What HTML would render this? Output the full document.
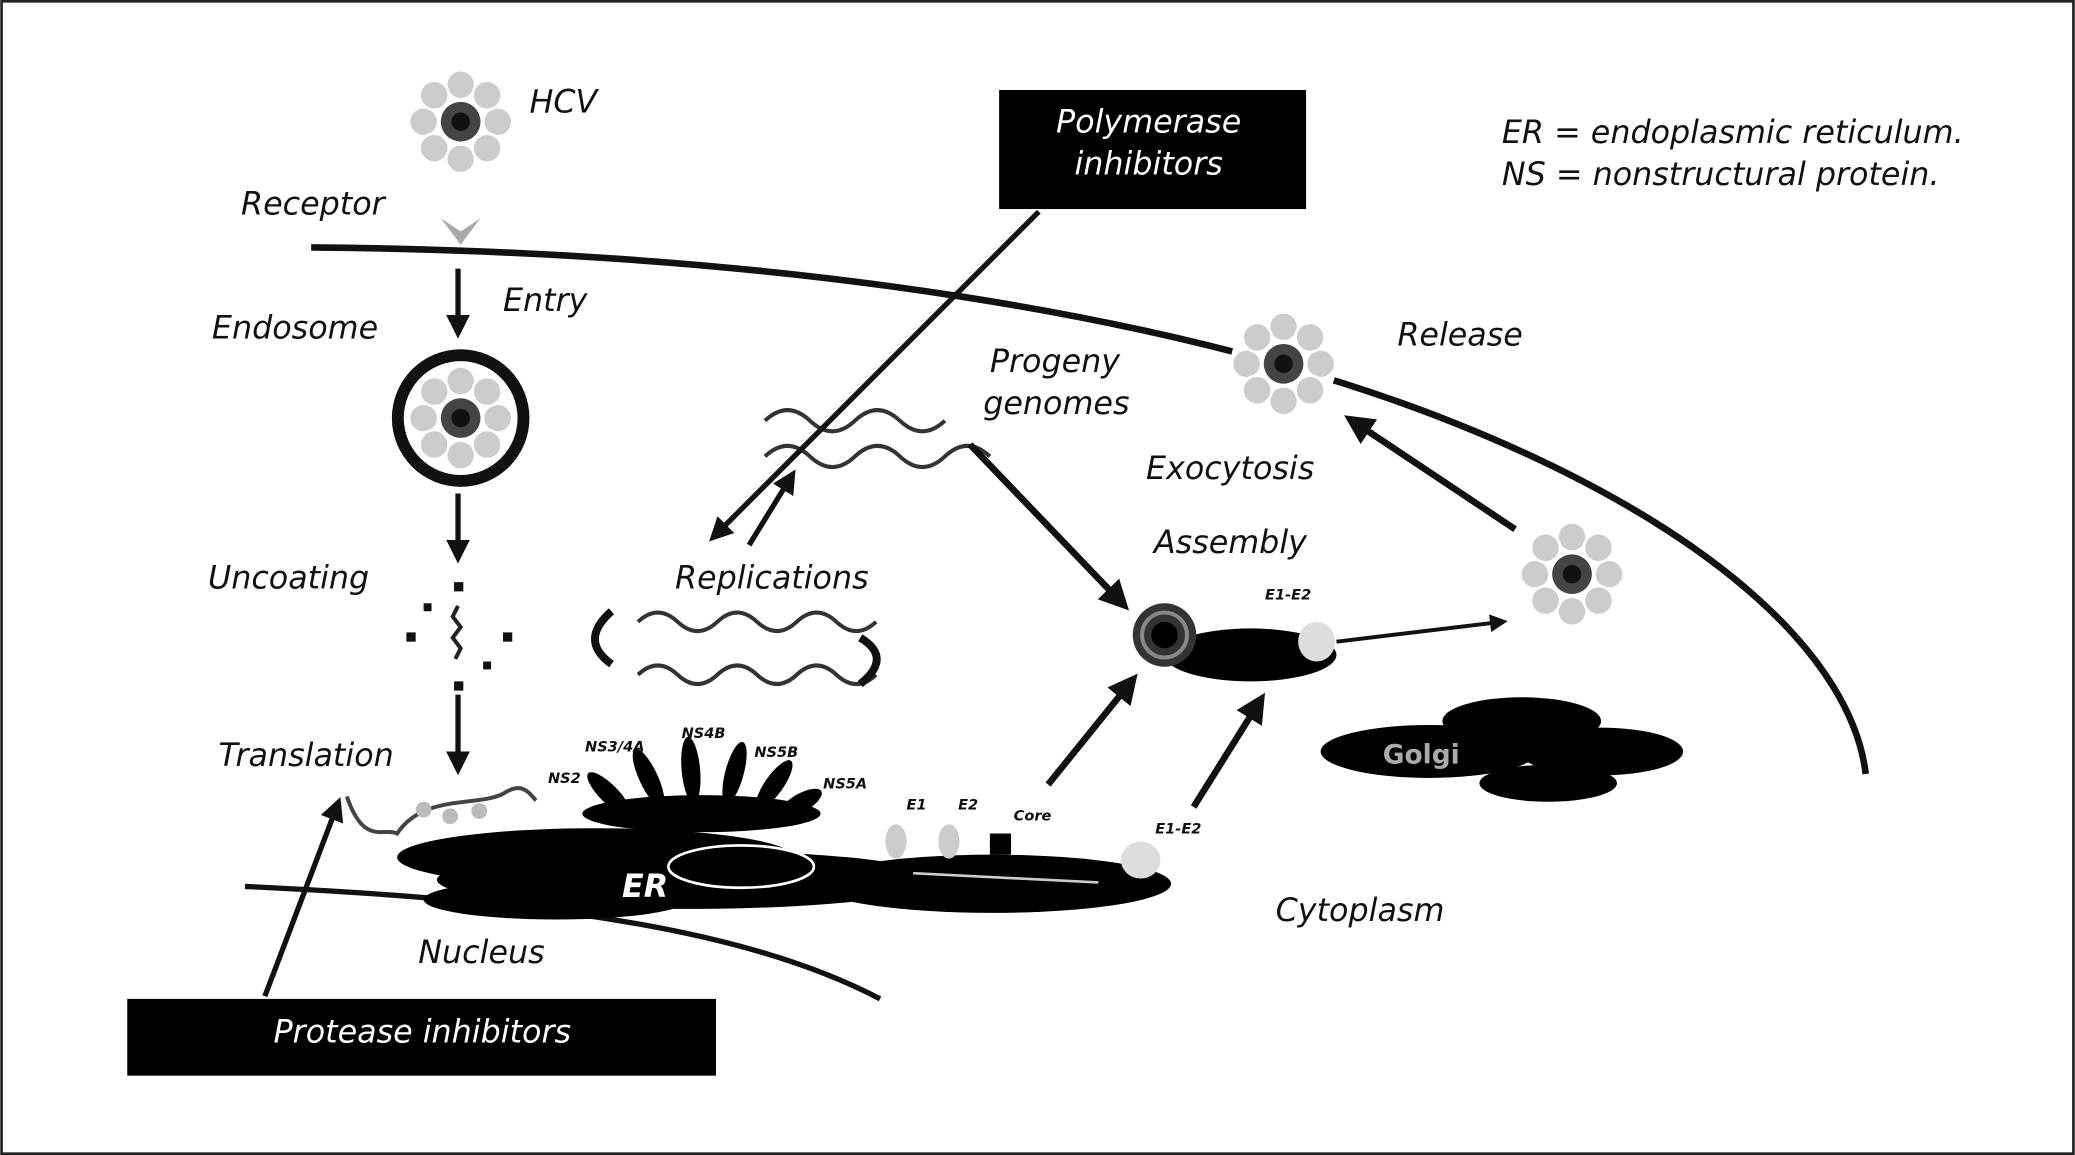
<!DOCTYPE html>
<html><head><meta charset="utf-8"><style>
html,body{margin:0;padding:0;background:#fff;}
svg{display:block;}
text{font-family:"DejaVu Sans","Liberation Sans",sans-serif;font-style:italic;fill:#111;}
</style></head><body>
<svg width="2075" height="1155" viewBox="0 0 1568 873" xmlns="http://www.w3.org/2000/svg">
<defs>
<marker id="ah" markerWidth="4.5" markerHeight="4.5" refX="3" refY="2.25" orient="auto" markerUnits="strokeWidth">
<path d="M0,0 L4.5,2.25 L0,4.5 z" fill="#111"/></marker>
<g id="virus">
<circle r="40" fill="#fff"/>
<g fill="#ccc" stroke="#fff" stroke-width="2">
<circle cx="0" cy="-28" r="11"/><circle cx="0" cy="28" r="11"/><circle cx="-28" cy="0" r="11"/><circle cx="28" cy="0" r="11"/>
<circle cx="20" cy="20" r="11"/><circle cx="-20" cy="20" r="11"/><circle cx="20" cy="-20" r="11"/><circle cx="-20" cy="-20" r="11"/>
</g>
<circle r="15" fill="#444"/><circle r="7" fill="#111"/>
</g>
</defs>
<rect x="1" y="1" width="1566" height="871" fill="#fff" stroke="#222" stroke-width="2"/>

<path d="M235,187 C600,190 900,240 1100,320 C1300,400 1400,500 1410,585" fill="none" stroke="#111" stroke-width="5"/>
<path d="M185,670 C400,680 560,700 665,755" fill="none" stroke="#111" stroke-width="4"/>

<text x="400" y="85" font-size="24">HCV</text>
<text x="182" y="162" font-size="24">Receptor</text>
<text x="380" y="235" font-size="24">Entry</text>
<text x="160" y="256" font-size="24">Endosome</text>
<text x="157" y="445" font-size="24">Uncoating</text>
<text x="510" y="445" font-size="24">Replications</text>
<text x="165" y="579" font-size="24">Translation</text>
<text x="316" y="728" font-size="24">Nucleus</text>
<text x="748" y="281" font-size="24">Progeny</text>
<text x="743" y="313" font-size="24">genomes</text>
<text x="866" y="362" font-size="24">Exocytosis</text>
<text x="872" y="418" font-size="24">Assembly</text>
<text x="1056" y="261" font-size="24">Release</text>
<text x="964" y="696" font-size="24">Cytoplasm</text>
<text x="1135" y="108" font-size="24">ER = endoplasmic reticulum.</text>
<text x="1135" y="140" font-size="24">NS = nonstructural protein.</text>

<rect x="755" y="68" width="232" height="90" fill="#000"/>
<text x="868" y="100" font-size="24" text-anchor="middle" style="fill:#fff">Polymerase</text>
<text x="868" y="132" font-size="24" text-anchor="middle" style="fill:#fff">inhibitors</text>
<rect x="96" y="755" width="445" height="58" fill="#000"/>
<text x="319" y="788" font-size="24" text-anchor="middle" style="fill:#fff">Protease inhibitors</text>

<use href="#virus" x="348" y="92"/>
<path d="M333,165 L348,185 L363,165 L348,175 z" fill="#aaa"/>

<line x1="346" y1="203" x2="346" y2="250" stroke="#111" stroke-width="4" marker-end="url(#ah)"/>
<circle cx="348" cy="316" r="52" fill="#111"/>
<circle cx="348" cy="316" r="43" fill="#fff"/>
<use href="#virus" x="348" y="316"/>
<line x1="346" y1="373" x2="346" y2="420" stroke="#111" stroke-width="4" marker-end="url(#ah)"/>
<g fill="#111">
<rect x="343" y="440" width="7" height="7"/><rect x="343" y="515" width="7" height="7"/>
<rect x="307" y="478" width="7" height="7"/><rect x="380" y="478" width="7" height="7"/>
<rect x="320" y="456" width="6" height="6"/><rect x="365" y="500" width="6" height="6"/>
</g>
<path d="M346,458 l-4,8 l6,8 l-6,8 l6,8 l-4,8" fill="none" stroke="#222" stroke-width="3"/>
<line x1="346" y1="525" x2="346" y2="580" stroke="#111" stroke-width="4" marker-end="url(#ah)"/>

<ellipse cx="450" cy="648" rx="150" ry="22" fill="#000"/>
<ellipse cx="520" cy="665" rx="190" ry="22" fill="#000"/>
<ellipse cx="560" cy="655" rx="55" ry="16" fill="#000" stroke="#fff" stroke-width="2"/>
<ellipse cx="750" cy="668" rx="135" ry="22" fill="#000"/>
<ellipse cx="420" cy="680" rx="100" ry="15" fill="#000"/>
<text x="470" y="678" font-size="24" style="fill:#fff;font-weight:bold">ER</text>
<line x1="690" y1="660" x2="830" y2="667" stroke="#ccc" stroke-width="2"/>
<ellipse cx="530" cy="615" rx="90" ry="14" fill="#000"/>
<g fill="#000">
<ellipse cx="460" cy="600" rx="7" ry="22" transform="rotate(-45 460 600)"/>
<ellipse cx="490" cy="588" rx="7" ry="24" transform="rotate(-25 490 588)"/>
<ellipse cx="522" cy="582" rx="7" ry="25" transform="rotate(-5 522 582)"/>
<ellipse cx="555" cy="584" rx="7" ry="24" transform="rotate(15 555 584)"/>
<ellipse cx="585" cy="593" rx="7" ry="22" transform="rotate(35 585 593)"/>
<ellipse cx="605" cy="607" rx="7" ry="18" transform="rotate(60 605 607)"/>
</g>
<g font-size="11" style="font-style:normal;font-weight:bold;fill:#333">
<text x="414" y="592" font-family="Liberation Sans">NS2</text>
<text x="442" y="568" font-family="Liberation Sans">NS3/4A</text>
<text x="515" y="558" font-family="Liberation Sans">NS4B</text>
<text x="570" y="572" font-family="Liberation Sans">NS5B</text>
<text x="622" y="596" font-family="Liberation Sans">NS5A</text>
<text x="685" y="612" font-family="Liberation Sans">E1</text>
<text x="724" y="612" font-family="Liberation Sans">E2</text>
<text x="766" y="620" font-family="Liberation Sans">Core</text>
<text x="873" y="630" font-family="Liberation Sans">E1-E2</text>
<text x="956" y="453" font-family="Liberation Sans">E1-E2</text>
</g>
<path d="M262,602 C275,640 290,625 300,630 C320,600 360,610 380,600 C395,590 400,600 405,605" fill="none" stroke="#444" stroke-width="3"/>
<g fill="#bbb"><circle cx="320" cy="612" r="6"/><circle cx="340" cy="617" r="6"/><circle cx="362" cy="613" r="6"/></g>
<ellipse cx="677" cy="636" rx="8" ry="13" fill="#ccc"/>
<ellipse cx="717" cy="636" rx="8" ry="13" fill="#ccc"/>
<rect x="748" y="630" width="16" height="16" fill="#000"/>
<ellipse cx="862" cy="650" rx="15" ry="14" fill="#ddd"/>

<line x1="200" y1="753" x2="255" y2="608" stroke="#111" stroke-width="4" marker-end="url(#ah)"/>

<path d="M482,470 q15,-14 30,0 t30,0 t30,0 t30,0 t30,0 t30,0" fill="none" stroke="#333" stroke-width="3"/>
<path d="M482,510 q15,-14 30,0 t30,0 t30,0 t30,0 t30,0 t30,0" fill="none" stroke="#333" stroke-width="3"/>
<path d="M462,462 q-25,22 0,40" fill="none" stroke="#111" stroke-width="6"/>
<path d="M650,482 q25,15 0,35" fill="none" stroke="#111" stroke-width="6"/>
<path d="M578,318 q17,-16 34,0 t34,0 t34,0 t34,0" fill="none" stroke="#333" stroke-width="3"/>
<path d="M578,345 q17,-16 34,0 t34,0 t34,0 t34,0 t34,0" fill="none" stroke="#333" stroke-width="3"/>
<line x1="785" y1="160" x2="540" y2="405" stroke="#111" stroke-width="4" marker-end="url(#ah)"/>
<line x1="566" y1="412" x2="598" y2="360" stroke="#111" stroke-width="4" marker-end="url(#ah)"/>
<line x1="733" y1="336" x2="848" y2="456" stroke="#111" stroke-width="5" marker-end="url(#ah)"/>
<line x1="792" y1="593" x2="855" y2="515" stroke="#111" stroke-width="5" marker-end="url(#ah)"/>
<line x1="902" y1="610" x2="952" y2="530" stroke="#111" stroke-width="5" marker-end="url(#ah)"/>

<ellipse cx="945" cy="495" rx="65" ry="20" fill="#000"/>
<circle cx="880" cy="480" r="24" fill="#333"/><circle cx="880" cy="480" r="10" fill="#000"/>
<circle cx="880" cy="480" r="17" fill="none" stroke="#888" stroke-width="3"/>
<ellipse cx="995" cy="485" rx="14" ry="15" fill="#ddd"/>
<line x1="1010" y1="485" x2="1135" y2="470" stroke="#111" stroke-width="3" marker-end="url(#ah)"/>

<ellipse cx="1150" cy="545" rx="60" ry="18" fill="#000"/>
<ellipse cx="1080" cy="568" rx="82" ry="20" fill="#000"/>
<ellipse cx="1210" cy="568" rx="62" ry="18" fill="#000"/>
<ellipse cx="1170" cy="592" rx="52" ry="14" fill="#000"/>
<text x="1045" y="577" font-size="20" style="fill:#aaa;font-style:normal;font-weight:bold">Golgi</text>

<use href="#virus" x="1188" y="434"/>
<line x1="1145" y1="400" x2="1022" y2="318" stroke="#111" stroke-width="5" marker-end="url(#ah)"/>
<use href="#virus" x="970" y="275"/>
</svg>
</body></html>
